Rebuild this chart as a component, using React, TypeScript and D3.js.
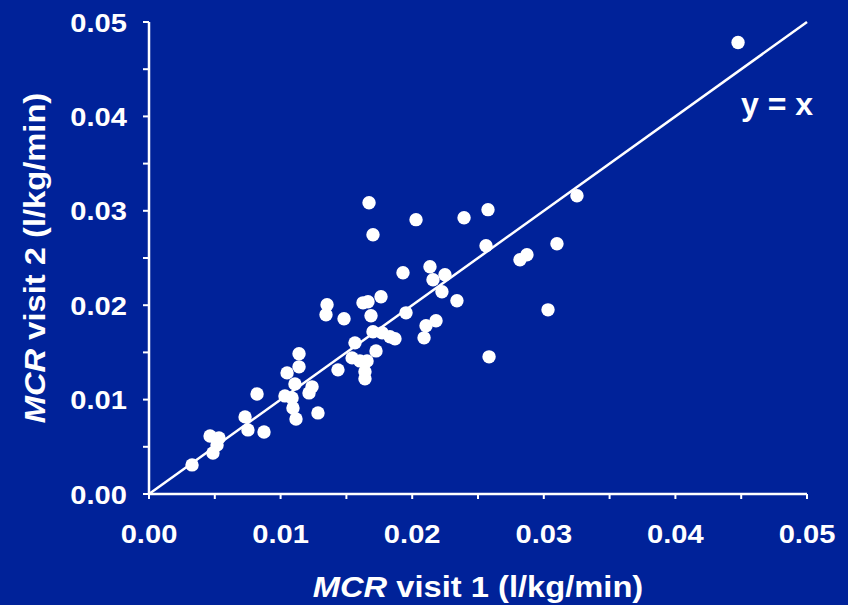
import React from "react";
import * as d3 from "d3";

// MCR (l/kg/min) measured at visit 1 and visit 2 for each subject
const visit1: number[] = [
  0.04476, 0.03252, 0.02576, 0.02394, 0.02029, 0.01672, 0.01702, 0.02561,
  0.031, 0.02819, 0.02872, 0.03032, 0.02584, 0.0193, 0.02135, 0.02158,
  0.02249, 0.02226, 0.0234, 0.01953, 0.02181, 0.02105, 0.0209, 0.01763,
  0.01626, 0.01664, 0.01353, 0.01345, 0.01482, 0.01687, 0.01702, 0.01771,
  0.01831, 0.01869, 0.01565, 0.01725, 0.01543, 0.01603, 0.01657, 0.01436,
  0.01641, 0.01641, 0.0114, 0.0114, 0.01049, 0.01109, 0.01239, 0.01216,
  0.01033, 0.01087, 0.01094, 0.01117, 0.01284, 0.00821, 0.0073, 0.00752,
  0.00874, 0.00464, 0.00532, 0.00517, 0.00486, 0.00327,
];
const visit2: number[] = [
  0.04783, 0.0316, 0.03012, 0.02927, 0.02906, 0.03086, 0.02747, 0.0263,
  0.02651, 0.02481, 0.02534, 0.01951, 0.01453, 0.02344, 0.02407, 0.02269,
  0.02322, 0.02142, 0.02047, 0.01919, 0.01835, 0.01782, 0.01654, 0.02089,
  0.02025, 0.02036, 0.02004, 0.01898, 0.01856, 0.01888, 0.01718, 0.01707,
  0.01665, 0.01644, 0.01601, 0.01516, 0.01442, 0.0141, 0.0141, 0.01315,
  0.01294, 0.0122, 0.01485, 0.01347, 0.01283, 0.01166, 0.01135, 0.01071,
  0.01039, 0.01018, 0.00912, 0.00795, 0.00859, 0.0106, 0.00817, 0.00679,
  0.00657, 0.00615, 0.00594, 0.0052, 0.00435, 0.00308,
];

const majorTicks: number[] = [0, 0.01, 0.02, 0.03, 0.04, 0.05];
const minorTicks: number[] = [0.005, 0.015, 0.025, 0.035, 0.045];
const tickFormat = d3.format(".2f");

const W = 848;
const H = 605;
const BG = "#002299";
const FONT = "'Liberation Sans', Arial, Helvetica, sans-serif";

export default function App() {
  const x = d3.scaleLinear().domain([0, 0.05]).range([149, 807]);
  const y = d3.scaleLinear().domain([0, 0.05]).range([494, 22]);
  const allTicks = [...majorTicks, ...minorTicks];
  const points = visit1.map((v, i) => ({ v1: v, v2: visit2[i] }));

  return (
    <svg
      width={W}
      height={H}
      style={{ position: "absolute", left: 0, top: 0, display: "block" }}
      fontFamily={FONT}
    >
      <rect width={W} height={H} fill={BG} />

      {/* identity line */}
      <line
        x1={x(0)}
        y1={y(0)}
        x2={x(0.05)}
        y2={y(0.05)}
        stroke="#fff"
        strokeWidth={2.5}
      />

      {/* axes */}
      <line x1={x(0)} y1={y(0)} x2={x(0.05)} y2={y(0)} stroke="#fff" strokeWidth={2.5} />
      <line x1={x(0)} y1={y(0)} x2={x(0)} y2={y(0.05)} stroke="#fff" strokeWidth={2.5} />
      {allTicks.map((t) => (
        <line key={"xt" + t} x1={x(t)} x2={x(t)} y1={y(0)} y2={y(0) + 5} stroke="#fff" strokeWidth={2} />
      ))}
      {allTicks.map((t) => (
        <line key={"yt" + t} x1={x(0) - 6} x2={x(0)} y1={y(t)} y2={y(t)} stroke="#fff" strokeWidth={2} />
      ))}

      {/* tick labels */}
      {majorTicks.map((t) => (
        <text
          key={"xl" + t}
          transform={`translate(${x(t)},543) scale(1.12,1)`}
          textAnchor="middle"
          fontSize={26}
          fontWeight="bold"
          fill="#fff"
        >
          {tickFormat(t)}
        </text>
      ))}
      {majorTicks.map((t) => (
        <text
          key={"yl" + t}
          transform={`translate(127,${y(t) + 9.5}) scale(1.12,1)`}
          textAnchor="end"
          fontSize={26}
          fontWeight="bold"
          fill="#fff"
        >
          {tickFormat(t)}
        </text>
      ))}

      {/* points */}
      {points.map((p, i) => (
        <circle key={i} cx={x(p.v1)} cy={y(p.v2)} r={6.7} fill="#fff" />
      ))}

      <text x={813} y={115} textAnchor="end" fontSize={32} fontWeight="bold" fill="#fff">
        y = x
      </text>

      {/* axis titles */}
      <text
        transform="translate(478,597) scale(1.09,1)"
        textAnchor="middle"
        fontSize={30}
        fontWeight="bold"
        fill="#fff"
      >
        <tspan fontStyle="italic">MCR</tspan> visit 1 (l/kg/min)
      </text>
      <text
        transform="translate(45,258) rotate(-90) scale(1.09,1)"
        textAnchor="middle"
        fontSize={30}
        fontWeight="bold"
        fill="#fff"
      >
        <tspan fontStyle="italic">MCR</tspan> visit 2 (l/kg/min)
      </text>
    </svg>
  );
}
